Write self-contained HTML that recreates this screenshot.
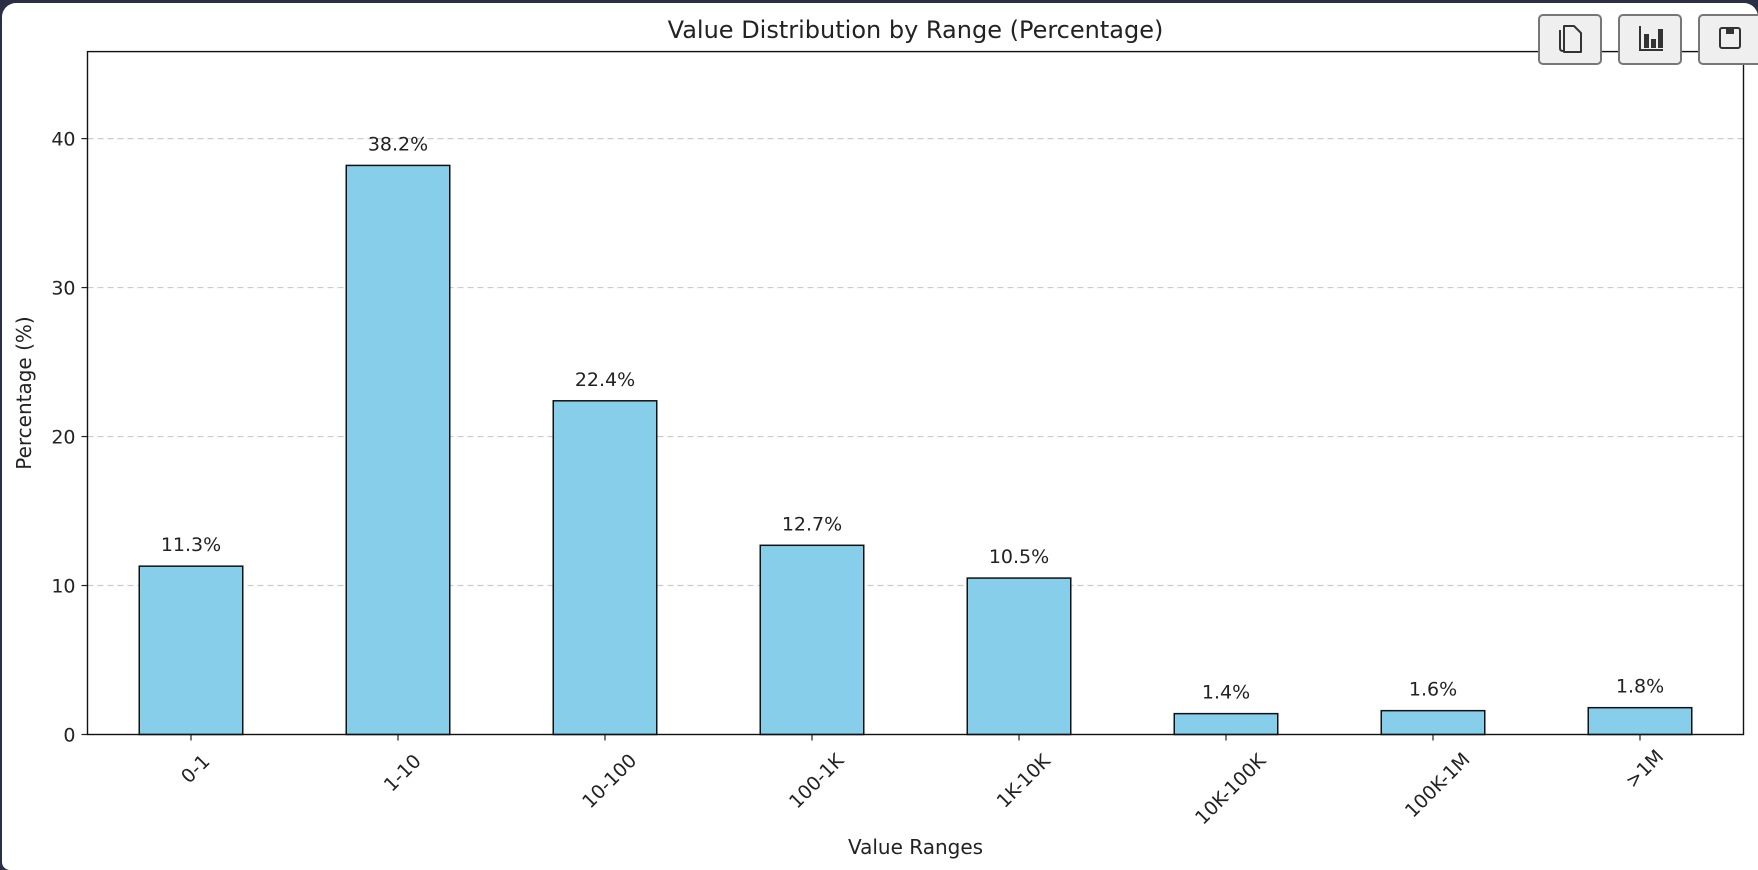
<!DOCTYPE html>
<html><head><meta charset="utf-8"><style>
html,body{margin:0;padding:0;background:#2b2f45;width:1758px;height:870px;overflow:hidden}
#card{position:absolute;left:2px;top:3px;width:1756px;height:867px;background:#fff;border-radius:14px 14px 0 8px}
svg{position:absolute;left:0;top:0}
text{font-family:"DejaVu Sans","Liberation Sans",sans-serif;fill:#222}
.btn{position:absolute;top:14px;width:64px;height:51px;background:#efefef;border:2px solid #777;border-radius:5px;box-sizing:border-box}
</style></head><body>
<div id="card"></div>
<svg id="chart" width="1758" height="870"></svg>
<div class="btn" style="left:1538px"><svg width="60" height="47"><path d="M24 10 h10 l7 7 v19 h-17z" fill="none" stroke="#333" stroke-width="2" stroke-linejoin="round"/><path d="M20 14 v18 q0 3 3 3" stroke="#333" stroke-width="2" fill="none"/></svg></div>
<div class="btn" style="left:1618px"><svg width="60" height="47"><path d="M20 10 v24 h23" stroke="#333" stroke-width="2" fill="none"/><rect x="24" y="18" width="5" height="14" fill="#333"/><rect x="31" y="23" width="5" height="9" fill="#333"/><rect x="38" y="13" width="5" height="19" fill="#333"/></svg></div>
<div class="btn" style="left:1698px;width:70px"><svg width="60" height="47"><rect x="20" y="12" width="20" height="20" rx="2" fill="none" stroke="#333" stroke-width="2"/><rect x="26" y="12" width="8" height="6" fill="#333"/></svg></div>
<script>
const categories=["0-1","1-10","10-100","100-1K","1K-10K","10K-100K","100K-1M",">1M"];
const values=[11.3,38.2,22.4,12.7,10.5,1.4,1.6,1.8];
const yTicks=[0,10,20,30,40];
const L=87.5,R=1743.5,T=51.6,B=734.5,YMAX=45.84;
const svg=document.getElementById('chart');
const NS='http://www.w3.org/2000/svg';
function x(i){return L+(i+0.5)*(R-L)/categories.length;}
function y(v){return B-v*(B-T)/YMAX;}
function mk(tag,at,txt){const e=document.createElementNS(NS,tag);for(const k in at)e.setAttribute(k,at[k]);if(txt!==undefined)e.textContent=txt;svg.appendChild(e);return e;}
const bw=(R-L)/categories.length*0.5;
yTicks.forEach(t=>{
  if(t>0){const g=mk('line',{x1:L,x2:R,y1:y(t),y2:y(t),stroke:'#ccc','stroke-dasharray':'6,4','stroke-width':1.2});
  
  }
  const tk=mk('line',{x1:L-6,x2:L,y1:y(t),y2:y(t),stroke:'#222','stroke-width':1.2});
  
  
  const lb=mk('text',{x:L-12,y:y(t)+7,'text-anchor':'end','font-size':19},t);
  
  
});
values.forEach((v,i)=>{
  const r=mk('rect',{x:x(i)-bw/2,y:y(v),width:bw,height:B-y(v),fill:'#87ceeb',stroke:'#111','stroke-width':1.5});
  
  
  const t=mk('text',{x:x(i),y:y(v)-15,'text-anchor':'middle','font-size':19},v.toFixed(1)+'%');
  
  
  const tk=mk('line',{x1:x(i),x2:x(i),y1:B,y2:B+6,stroke:'#222','stroke-width':1.2});
  
  
  const len=categories[i].length*11.5, h=19;
  const cy=B+15+(len*0.707+h*0.707)/2;
  const cx=x(i)+4;
  const xl=mk('text',{x:cx,y:cy+7,'text-anchor':'middle','font-size':19,transform:'rotate(-45 '+cx+' '+cy+')'},categories[i]);
  
  
});
const fr=mk('rect',{x:L,y:T,width:R-L,height:B-T,fill:'none',stroke:'#111','stroke-width':1.4});


const ti=mk('text',{x:(L+R)/2,y:38,'text-anchor':'middle','font-size':24},'Value Distribution by Range (Percentage)');


const xt=mk('text',{x:(L+R)/2,y:854,'text-anchor':'middle','font-size':20},'Value Ranges');


const yt=mk('text',{x:31,y:(T+B)/2,'text-anchor':'middle','font-size':20,transform:'rotate(-90 31 '+(T+B)/2+')'},'Percentage (%)');


</script>
</body></html>
